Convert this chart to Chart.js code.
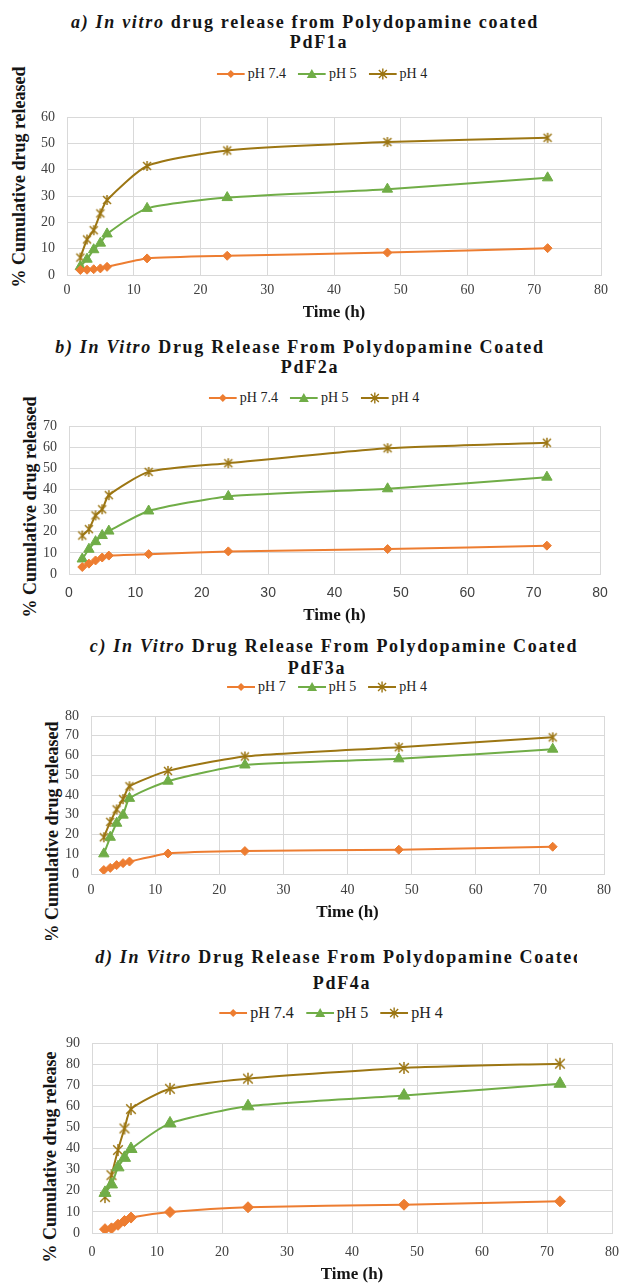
<!DOCTYPE html>
<html lang="en">
<head>
  <meta charset="UTF-8">
  <title>In vitro drug release from Polydopamine coated PdF1a - PdF4a</title>
  <script src="https://cdn.jsdelivr.net/npm/chart.js"></script>
  <style>
    body { margin: 0; background: #fff; }
    #page {
      position: relative;
      width: 620px;
      height: 1283px;
      overflow: hidden;
      font-family: "Liberation Serif", "Times New Roman", serif;
      color: #151515;
    }
    .title {
      position: absolute;
      white-space: nowrap;
      font-weight: bold;
      font-size: 18px;
      letter-spacing: 1.7px;
      transform: translate(-50%, -50%);
    }
    .ytitle {
      position: absolute;
      white-space: nowrap;
      font-weight: bold;
      font-size: 18px;
      transform: translate(-50%, -50%) rotate(-90deg);
    }
    .legend {
      position: absolute;
      white-space: nowrap;
      display: flex;
      align-items: center;
      transform: translate(-50%, -50%);
      color: #222;
    }
    .legend .item { display: inline-flex; align-items: center; margin: 0 6px; }
    .legend svg { margin-right: 3px; }
    .clip { position: absolute; overflow: hidden; }
    canvas { position: absolute; left: 0; }
  </style>
</head>
<body>
<div id="page">
  <div class="title" style="left:305px; top:22px;"><i>a) In vitro</i> drug release from Polydopamine coated</div>
  <div class="title" style="left:319px; top:42px;">PdF1a</div>
  <div class="legend" id="legendA" style="left:322px; top:74px; font-size:14px;"></div>
  <div class="ytitle" style="left:19px; top:177px;">% Cumulative drug released</div>
  <canvas id="chartA"></canvas>

  <div class="title" style="left:300px; top:347px;"><i>b) In Vitro</i> Drug Release From Polydopamine Coated</div>
  <div class="title" style="left:310px; top:367px;">PdF2a</div>
  <div class="legend" id="legendB" style="left:314px; top:398px; font-size:14px;"></div>
  <div class="ytitle" style="left:30px; top:507px;">% Cumulative drug released</div>
  <canvas id="chartB"></canvas>

  <div class="title" style="left:334px; top:646px;"><i>c) In Vitro</i> Drug Release From Polydopamine Coated</div>
  <div class="title" style="left:317px; top:668px;">PdF3a</div>
  <div class="legend" id="legendC" style="left:327px; top:687px; font-size:14px;"></div>
  <div class="clip" style="left:0; top:700px; width:90px; height:240px;">
    <div class="ytitle" style="left:52px; top:132px;">% Cumulative drug released</div>
  </div>
  <canvas id="chartC"></canvas>

  <div class="clip" style="left:0; top:940px; width:577px; height:32px;">
    <div class="title" style="left:340px; top:17px;"><i>d) In Vitro</i> Drug Release From Polydopamine Coated</div>
  </div>
  <div class="title" style="left:342px; top:983px;">PdF4a</div>
  <div class="legend" id="legendD" style="left:331px; top:1013px; font-size:16px;"></div>
  <div class="ytitle" style="left:50px; top:1157px;">% Cumulative drug release</div>
  <canvas id="chartD"></canvas>
</div>

<script>
  // sampling times (h)
  const timeHours = [2, 3, 4, 5, 6, 12, 24, 48, 72];
  const xTicks = [0, 10, 20, 30, 40, 50, 60, 70, 80];

  const seriesNames = ["pH 7.4", "pH 5", "pH 4"];
  const seriesNamesC = ["pH 7", "pH 5", "pH 4"];

  // a) PdF1a
  const pdf1aPh74 = [1.9, 2.0, 2.2, 2.5, 3.1, 6.3, 7.3, 8.5, 10.2];
  const pdf1aPh5  = [3.2, 6.0, 9.6, 12.1, 15.6, 25.3, 29.4, 32.6, 36.9];
  const pdf1aPh4  = [6.6, 13.5, 17.0, 23.4, 28.5, 41.4, 47.3, 50.5, 52.1];

  // b) PdF2a
  const pdf2aPh74 = [3.3, 4.9, 6.4, 7.8, 8.7, 9.4, 10.7, 11.8, 13.4];
  const pdf2aPh5  = [7.1, 11.7, 15.3, 18.2, 20.3, 29.8, 36.7, 40.3, 45.8];
  const pdf2aPh4  = [18.2, 21.2, 27.7, 30.6, 37.3, 48.3, 52.4, 59.5, 62.1];

  // c) PdF3a
  const pdf3aPh7  = [2.0, 3.1, 4.5, 5.5, 6.3, 10.4, 11.6, 12.3, 13.8];
  const pdf3aPh5  = [10.2, 18.6, 25.7, 29.8, 38.3, 47.0, 55.2, 58.3, 63.2];
  const pdf3aPh4  = [18.6, 26.4, 32.7, 37.9, 44.4, 52.2, 59.5, 64.2, 69.2];

  // d) PdF4a
  const pdf4aPh74 = [1.8, 2.2, 3.9, 5.7, 7.3, 9.9, 12.2, 13.4, 15.0];
  const pdf4aPh5  = [19.0, 23.0, 31.1, 35.6, 39.8, 51.9, 60.0, 65.1, 70.7];
  const pdf4aPh4  = [17.0, 27.4, 39.3, 49.5, 58.7, 68.3, 73.1, 78.2, 80.2];

  const colors = ["#ED7D31", "#70AD47", "#9C7613"];
  const serif = "'Liberation Serif', 'Times New Roman', serif";
  const sans = "'Liberation Sans', Arial, sans-serif";

  // Excel-like star marker (x with a vertical bar)
  function starMarker(color, size) {
    const c = document.createElement("canvas");
    c.width = size;
    c.height = size;
    const g = c.getContext("2d");
    const m = size / 2;
    const r = size / 2 - 1;
    g.strokeStyle = color;
    g.lineWidth = 1.5;
    g.beginPath();
    g.moveTo(m - r * 0.8, m - r * 0.8); g.lineTo(m + r * 0.8, m + r * 0.8);
    g.moveTo(m + r * 0.8, m - r * 0.8); g.lineTo(m - r * 0.8, m + r * 0.8);
    g.moveTo(m, m - r); g.lineTo(m, m + r);
    g.stroke();
    return c;
  }

  function legendSvg(i, color) {
    let mark;
    if (i === 0) mark = `<polygon points="14,3 18,7 14,11 10,7" fill="${color}"/>`;
    else if (i === 1) mark = `<polygon points="14,2 19,11 9,11" fill="${color}"/>`;
    else mark = `<path d="M10,3L18,11M18,3L10,11M14,1.5V12.5" stroke="${color}" stroke-width="1.4" fill="none"/>`;
    return `<svg width="28" height="14" viewBox="0 0 28 14"><line x1="0" y1="7" x2="28" y2="7" stroke="${color}" stroke-width="2"/>${mark}</svg>`;
  }

  function buildLegend(id, names) {
    const el = document.getElementById(id);
    el.innerHTML = names.map((n, i) =>
      `<span class="item">${legendSvg(i, colors[i])}<span>${n}</span></span>`).join("");
  }

  const panels = [
    { id: "chartA", legend: "legendA", names: seriesNames, series: [pdf1aPh74, pdf1aPh5, pdf1aPh4], yMax: 60,
      box: { left: 67, right: 601, top: 117, bottom: 275, xTitle: 313, tickPad: 7 }, xFont: serif, big: false },
    { id: "chartB", legend: "legendB", names: seriesNames, series: [pdf2aPh74, pdf2aPh5, pdf2aPh4], yMax: 70,
      box: { left: 69, right: 600, top: 426, bottom: 574, xTitle: 616, tickPad: 11 }, xFont: sans, big: false },
    { id: "chartC", legend: "legendC", names: seriesNamesC, series: [pdf3aPh7, pdf3aPh5, pdf3aPh4], yMax: 80,
      box: { left: 91, right: 604, top: 716, bottom: 874, xTitle: 913, tickPad: 8 }, xFont: serif, big: false },
    { id: "chartD", legend: "legendD", names: seriesNames, series: [pdf4aPh74, pdf4aPh5, pdf4aPh4], yMax: 90,
      box: { left: 92, right: 612, top: 1043, bottom: 1233, xTitle: 1275, tickPad: 11 }, xFont: serif, big: true }
  ];

  function drawPanel(p) {
    buildLegend(p.legend, p.names);
    const b = p.box;
    const padTop = 12;
    const top = b.top - padTop;
    const bottom = b.xTitle + 10;
    const canvas = document.getElementById(p.id);
    canvas.style.top = top + "px";
    canvas.width = 620;
    canvas.height = bottom - top;

    const styles = [
      { pointStyle: "rectRot", pointRadius: p.big ? 5.5 : 4.5 },
      { pointStyle: "triangle", pointRadius: p.big ? 7 : 6 },
      { pointStyle: starMarker(colors[2], p.big ? 14 : 12), pointRadius: 6 }
    ];

    new Chart(canvas, {
      type: "line",
      data: {
        datasets: p.series.map((vals, i) => ({
          label: p.names[i],
          data: vals.map((v, j) => ({ x: timeHours[j], y: v })),
          borderColor: colors[i],
          backgroundColor: colors[i],
          borderWidth: 2,
          pointBorderWidth: 1,
          pointStyle: styles[i].pointStyle,
          pointRadius: styles[i].pointRadius,
          tension: 0.2
        }))
      },
      options: {
        responsive: false,
        animation: false,
        events: [],
        layout: { padding: { top: padTop, right: 620 - b.right, bottom: 0, left: 0 } },
        plugins: { legend: { display: false }, tooltip: { enabled: false } },
        scales: {
          x: {
            type: "linear",
            min: xTicks[0],
            max: xTicks[xTicks.length - 1],
            afterBuildTicks: s => { s.ticks = xTicks.map(v => ({ value: v })); },
            ticks: { padding: b.tickPad, color: "#404040", font: { family: p.xFont, size: 14 } },
            grid: { color: "#d9d9d9", drawTicks: false },
            border: { color: "#d9d9d9" },
            title: { display: true, text: "Time (h)", color: "#151515", padding: 0,
                     font: { family: serif, size: 17, weight: "bold" } },
            afterFit: s => {
              s.height = bottom - b.bottom;
              s.paddingLeft = 0;
              s.paddingRight = 0;
            }
          },
          y: {
            min: 0,
            max: p.yMax,
            ticks: { stepSize: 10, autoSkip: false, padding: 12, color: "#404040", font: { family: serif, size: 14 } },
            grid: { color: "#d9d9d9", drawTicks: false },
            border: { color: "#d9d9d9" },
            afterFit: s => {
              s.width = b.left;
              s.paddingTop = 0;
              s.paddingBottom = 0;
            }
          }
        }
      }
    });
  }

  panels.forEach(drawPanel);
</script>
</body>
</html>
